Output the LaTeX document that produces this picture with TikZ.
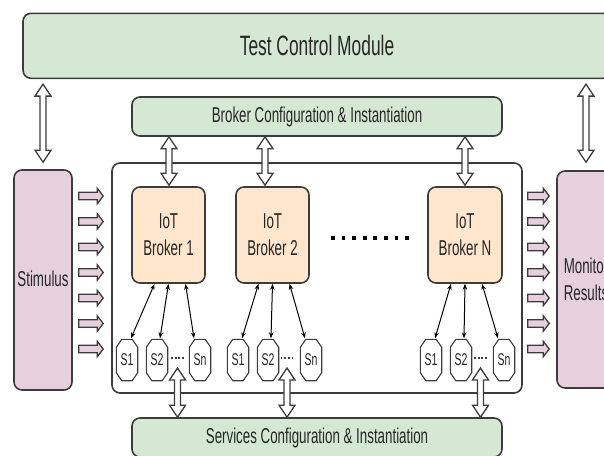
\documentclass[tikz,border=0pt]{standalone}
\usepackage{fontspec}
\setmainfont{Liberation Sans}[FakeStretch=0.62]
\usetikzlibrary{arrows.meta,calc}
\definecolor{bgreen}{HTML}{D5E8D4}
\definecolor{bpeach}{HTML}{FFE6CC}
\definecolor{bpink}{HTML}{E6D0DE}
\definecolor{bline}{HTML}{3C3C3C}
\definecolor{btext}{HTML}{262626}
\newcommand\hollowarrow[3]{%
  \draw[hollow] let \p1=#1, \p2=#2, \p3=#3 in
   (\x1,\y2) -- (\x1+8pt,\y2-12pt) -- (\x1+3pt,\y2-12pt) -- (\x1+3pt,\y3+12pt)
   -- (\x1+8pt,\y3+12pt) -- (\x1,\y3) -- (\x1-8pt,\y3+12pt) -- (\x1-3pt,\y3+12pt)
   -- (\x1-3pt,\y2-12pt) -- (\x1-8pt,\y2-12pt) -- cycle;}
\newcommand\pinkarrow[3]{%
  \draw[pinkarr] let \p1=#1, \p2=#2, \p3=#3 in
   (\x1,\y3+3.8pt) -- (\x2-6pt,\y3+3.8pt) -- (\x2-6pt,\y3+7.8pt) -- (\x2,\y3)
   -- (\x2-6pt,\y3-7.8pt) -- (\x2-6pt,\y3-3.8pt) -- (\x1,\y3-3.8pt) -- cycle;}
\begin{document}
\begin{tikzpicture}[x=1pt,y=-1pt,
  box/.style={draw=bline, line width=1.6pt, rounded corners=8pt, inner sep=0pt,
    text=btext, align=center, font=\fontsize{21.5}{27}\selectfont},
  greenbox/.style={box, fill=bgreen},
  brokerbox/.style={box, fill=bpeach, minimum width=73pt, minimum height=96pt},
  sidebox/.style={box, fill=bpink, minimum width=58pt},
  svc/.style={rectangle, minimum width=21pt, minimum height=41pt,
    inner sep=0pt, text=btext, font=\fontsize{17}{17}\selectfont},
  octo/.style={draw=bline, line width=1.1pt, line join=miter},
  hollow/.style={draw=bline, line width=1.3pt, fill=white, line join=miter},
  pinkarr/.style={draw=bline, line width=1.3pt, fill=bpink, line join=miter},
  link/.style={draw=black, line width=1pt, {Stealth[length=6pt,width=4.5pt]}-{Stealth[length=6pt,width=4.5pt]}},
  bigdots/.style={line width=3.8pt, dash pattern=on 3.8pt off 6.77pt, draw=black},
  smalldots/.style={line width=1.8pt, dash pattern=on 1.8pt off 1.9pt, draw=bline}
]
\useasboundingbox (0,0) rectangle (604,455);
\clip (0,0) rectangle (604,455);

% main boxes
\node[greenbox, minimum width=588pt, minimum height=65pt, font=\fontsize{28}{30}\selectfont] (tcm) at (317,45.8) {Test Control Module};
\node[greenbox, minimum width=370pt, minimum height=39pt] (bcfg) at (317,116.5) {Broker Configuration \& Instantiation};
\node[box, fill=white, minimum width=410pt, minimum height=230pt] (inner) at (317,278) {};
\node[sidebox, minimum height=220pt] (stim) at (43,280) {\raisebox{3pt}{Stimulus}};
\node[sidebox, minimum height=217pt] (mon) at (586,279.5) {Monitor\\Results};
\node[greenbox, minimum width=370pt, minimum height=39pt] (srv) at (317,437.5) {Services Configuration \& Instantiation};

% brokers
\node[brokerbox] (b1) at (168.5,235) {IoT\\Broker 1};
\node[brokerbox] (b2) at (272.5,235) {IoT\\Broker 2};
\node[brokerbox, minimum width=74pt] (bN) at (465,235) {IoT\\Broker N};

% services
\node[svc] (s11) at (127,360) {S1};
\node[svc] (s12) at (157,360) {S2};
\node[svc] (s1n) at (200,360) {Sn};
\node[svc] (s21) at (238,360) {S1};
\node[svc] (s22) at (268,360) {S2};
\node[svc] (s2n) at (311,360) {Sn};
\node[svc] (sN1) at (431,360) {S1};
\node[svc] (sN2) at (461,360) {S2};
\node[svc] (sNn) at (504,360) {Sn};
\foreach \s in {s11,s12,s1n,s21,s22,s2n,sN1,sN2,sNn}{
  \draw[octo] ([xshift=5.5pt]\s.north west) -- ([xshift=-5.5pt]\s.north east)
    -- ([yshift=-8pt]\s.north east) -- ([yshift=8pt]\s.south east)
    -- ([xshift=-5.5pt]\s.south east) -- ([xshift=5.5pt]\s.south west)
    -- ([yshift=8pt]\s.south west) -- ([yshift=-8pt]\s.north west) -- cycle;
}

% dots
\coordinate (d1) at (177.5,358);
\coordinate (d2) at (287,358);
\coordinate (dN) at (480.5,358);
\foreach \d in {d1,d2,dN}{\draw[smalldots] ([xshift=-6.5pt]\d) -- ([xshift=7pt]\d);}
\coordinate (bdots) at (331.1,238);
\draw[bigdots] (bdots) -- ++(78pt,0pt);

% broker to service links
\foreach \b/\sa/\sb/\sc in {b1/s11/s12/s1n, b2/s21/s22/s2n, bN/sN1/sN2/sNn}{
  \draw[link] ([xshift=-14pt]\b.south) -- ([xshift=4pt,yshift=1pt]\sa.north);
  \draw[link] ([xshift=0pt]\b.south) -- ([xshift=3pt,yshift=1pt]\sb.north);
  \draw[link] ([xshift=17pt]\b.south) -- ([xshift=-6pt,yshift=1pt]\sc.north);
}

% hollow double arrows
\hollowarrow{(stim.north)}{([yshift=-5pt]tcm.south)}{([yshift=7pt]stim.north)}
\hollowarrow{(mon.north)}{([yshift=-5pt]tcm.south)}{([yshift=8pt]mon.north)}
\hollowarrow{([xshift=0.5pt]b1.north)}{(bcfg.south)}{([yshift=1pt]b1.north)}
\hollowarrow{([xshift=-7.5pt]b2.north)}{(bcfg.south)}{([yshift=1pt]b2.north)}
\hollowarrow{(bN.north)}{(bcfg.south)}{([yshift=1pt]bN.north)}
\foreach \d in {d1,d2,dN}{\hollowarrow{(\d)}{([yshift=-10pt]\d)}{(srv.north)}}

% pink stimulus / result arrows
\foreach \yy in {196,221.5,247,272.5,298,323.5,349}{
  \pinkarrow{([xshift=6pt]stim.east)}{([xshift=-8pt]inner.west)}{(0,\yy)}
  \pinkarrow{([xshift=5pt]inner.east)}{([xshift=-7pt]mon.west)}{(0,\yy)}
}
\end{tikzpicture}
\end{document}
